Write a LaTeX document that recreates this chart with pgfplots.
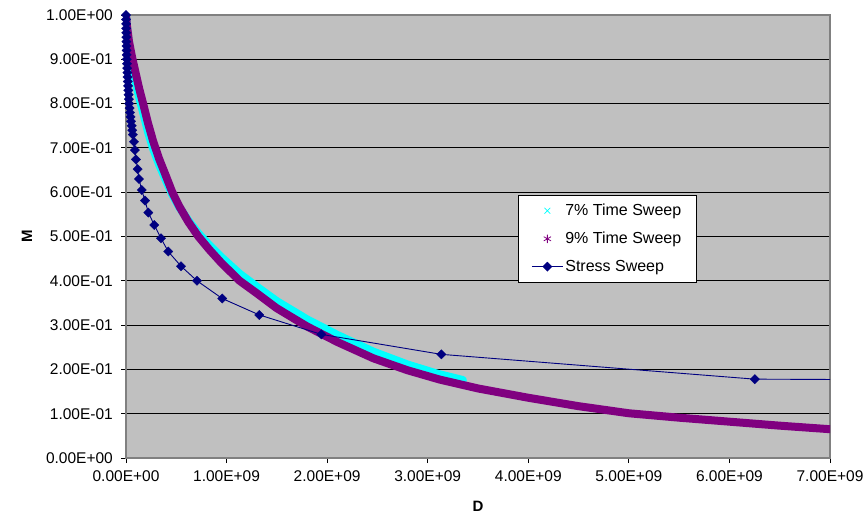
\documentclass[border=0pt]{standalone}
\usepackage{pgfplots}
\pgfplotsset{compat=1.18}
\usepackage{pgfplotstable}
\usepackage{fontspec}
\setmainfont{Liberation Sans}
\definecolor{bggray}{HTML}{C0C0C0}
\definecolor{axgray}{HTML}{808080}
\definecolor{cyanc}{HTML}{00FFFF}
\definecolor{purplec}{HTML}{800080}
\definecolor{navyc}{HTML}{000080}

% x in units of 1E+09
\pgfplotstableread{
x y
0 1.0
0.01 0.97
0.03 0.93
0.06 0.89
0.09 0.855
0.13 0.815
0.17 0.78
0.22 0.735
0.27 0.698
0.33 0.662
0.40 0.625
0.46 0.595
0.53 0.566
0.62 0.536
0.72 0.507
0.83 0.480
0.95 0.453
1.13 0.416
1.3 0.387
1.5 0.354
1.8 0.313
2.1 0.278
2.46 0.240
2.8 0.211
3.1 0.190
3.35 0.176
}\cyandata

\pgfplotstableread{
x y
0 1.0
0.01 0.975
0.03 0.94
0.06 0.905
0.09 0.875
0.13 0.835
0.17 0.80
0.22 0.755
0.27 0.715
0.33 0.675
0.40 0.635
0.46 0.60
0.53 0.568
0.62 0.533
0.72 0.50
0.83 0.47
0.95 0.44
1.13 0.40
1.3 0.372
1.5 0.338
1.8 0.297
2.1 0.262
2.46 0.225
2.8 0.198
3.12 0.177
3.5 0.157
4.0 0.136
4.5 0.117
5.0 0.101
5.5 0.091
6.0 0.082
6.5 0.073
7.0 0.065
7.1 0.064
}\purpledata

\pgfplotstableread{
x y
0.000 1.000
0.0005 0.99
0.001 0.98
0.0015 0.97
0.002 0.96
0.003 0.95
0.004 0.94
0.005 0.93
0.006 0.92
0.007 0.91
0.008 0.90
0.010 0.89
0.012 0.88
0.014 0.87
0.016 0.86
0.018 0.85
0.020 0.84
0.023 0.83
0.026 0.82
0.029 0.81
0.032 0.80
0.036 0.79
0.040 0.78
0.045 0.77
0.050 0.76
0.056 0.75
0.062 0.74
0.069 0.73
0.0795 0.714
0.089 0.695
0.099 0.674
0.116 0.652
0.129 0.630
0.156 0.605
0.189 0.581
0.222 0.554
0.281 0.526
0.348 0.496
0.420 0.466
0.547 0.433
0.706 0.400
0.957 0.360
1.325 0.323
1.943 0.279
3.135 0.234
6.252 0.178
12.5 0.172
}\stressdata

\begin{document}
\begin{tikzpicture}
\begin{axis}[
  scale only axis,
  width=704pt, height=443pt,
  xmin=0, xmax=7, ymin=0, ymax=1,
  xtick={0,1,2,3,4,5,6,7},
  xticklabels={0.00E+00,1.00E+09,2.00E+09,3.00E+09,4.00E+09,5.00E+09,6.00E+09,7.00E+09},
  ytick={0,0.1,0.2,0.3,0.4,0.5,0.6,0.7,0.8,0.9,1.0},
  yticklabels={0.00E+00,1.00E-01,2.00E-01,3.00E-01,4.00E-01,5.00E-01,6.00E-01,7.00E-01,8.00E-01,9.00E-01,1.00E+00},
  axis background/.style={fill=bggray},
  ymajorgrids,
  grid style={black, line width=0.9pt},
  axis line style={draw=axgray, line width=1.4pt},
  tick style={black, line width=0.8pt},
  tick align=outside,
  major tick length=5pt,
  xtick pos=bottom, ytick pos=left,
  ticklabel style={font=\fontsize{15.5}{17}\selectfont},
  xticklabel style={inner sep=0pt, yshift=-7pt},
  yticklabel style={inner sep=0pt, xshift=-8pt},
  every axis x label/.style={at={(rel axis cs:0.5,0)}, yshift=-48pt, anchor=center, font=\fontsize{15}{17}\selectfont\bfseries},
  every axis y label/.style={at={(rel axis cs:0,0.5)}, xshift=-99pt, rotate=90, anchor=center, font=\fontsize{15}{17}\selectfont\bfseries},
  xlabel={D}, ylabel={M},
  legend image code/.code={\draw[mark repeat=2,mark phase=2] plot coordinates {(0pt,0pt)(15.5pt,0pt)(31pt,0pt)};},
  legend cell align=left,
  legend style={at={(rel axis cs:0.557,0.594)}, anchor=north west,
    draw=black, line width=0.6pt, fill=white,
    font=\fontsize{16}{18}\selectfont,
    row sep=11pt, inner xsep=13pt, inner ysep=7pt,
    nodes={inner sep=2pt}},
]
\coordinate (bl) at (rel axis cs:0,0);
\coordinate (tr) at (rel axis cs:1,1);
\addplot[draw=cyanc, line width=8pt, line join=round, line cap=round,
  legend image code/.code={\draw[line width=0.8pt, draw=cyanc, mark=x, mark size=4pt, only marks] plot coordinates {(15.5pt,0pt)};}]
  table[x=x,y=y] {\cyandata};
\addlegendentry{7\% Time Sweep}
\addplot[draw=purplec, line width=8pt, line join=round, line cap=round,
  legend image code/.code={\draw[line width=0.8pt, draw=purplec, mark=asterisk, mark size=4pt, only marks] plot coordinates {(15.5pt,0pt)};}]
  table[x=x,y=y] {\purpledata};
\addlegendentry{9\% Time Sweep}
\addplot[color=navyc, line width=0.9pt, mark=square*, mark size=3.3pt,
  mark options={rotate=45, solid, line width=0.3pt, fill=navyc}]
  table[x=x,y=y] {\stressdata};
\addlegendentry{Stress Sweep}
\end{axis}
\pgfresetboundingbox
\path[use as bounding box] ([xshift=-126pt,yshift=-56pt]bl) rectangle ([xshift=35pt,yshift=15pt]tr);
\end{tikzpicture}
\end{document}
